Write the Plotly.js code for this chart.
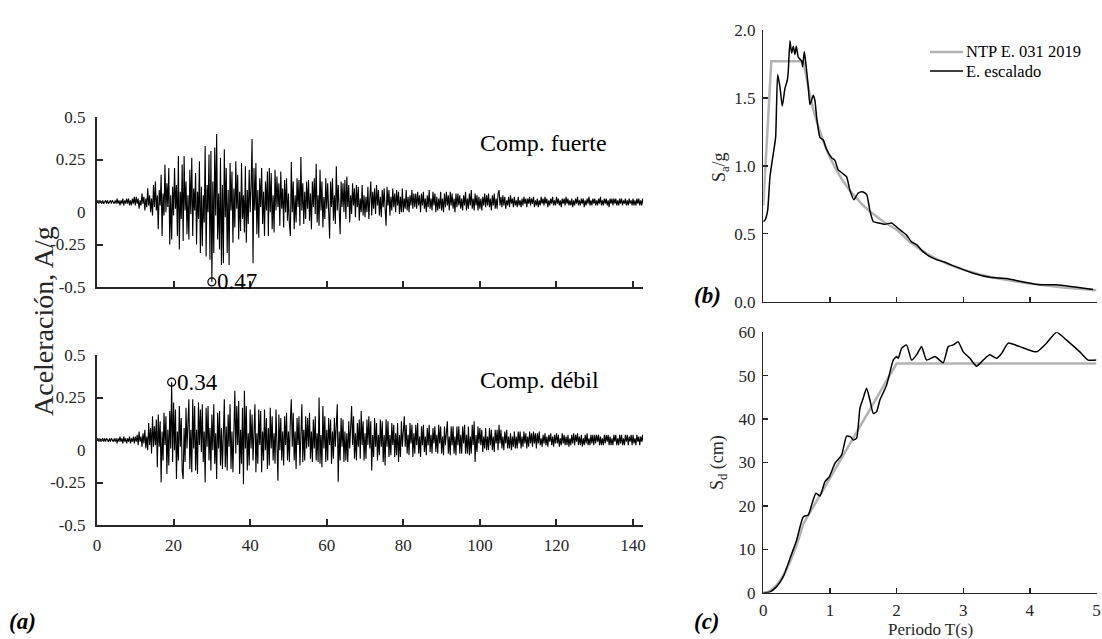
<!DOCTYPE html>
<html>
<head>
<meta charset="utf-8">
<script src="https://cdn.plot.ly/plotly-3.0.1.min.js"></script>
<style>
  html, body { margin: 0; padding: 0; background: #ffffff; }
  #chart { width: 1102px; height: 639px; }
</style>
</head>
<body>
<div id="chart"></div>
<script>
// ---------- Accelerograms (g), sampled every DT seconds ----------
const DT = 0.25;

const accFuerte = [
  0,.01,-.01,.01,0,-.01,.01,-.01,0,.01,-.01,.01,-.01,0,.01,-.01,.01,0,-.01,.01,
  -.01,.02,-.01,.01,-.02,.01,-.01,.02,-.02,.01,-.01,.02,-.01,.02,-.02,.01,-.02,.02,-.01,.03,
  -.02,.03,-.01,.02,-.04,.01,-.02,.05,-.01,.03,-.05,.02,-.03,.08,-.02,.04,-.06,.02,-.08,.1,
  -.03,.12,-.05,.04,-.16,.07,-.02,.16,-.2,.05,-.08,.22,-.06,.11,-.03,.2,-.25,.04,-.22,.09,
  -.08,.2,-.04,.1,-.2,.27,-.28,.06,-.1,.22,-.23,.27,-.05,.12,-.19,.04,-.22,.19,-.07,.26,
  -.2,.08,-.05,.17,-.25,.06,-.1,.24,-.3,.09,-.26,.04,-.12,.33,-.32,.1,-.06,.28,-.34,.3,
  -.47,.12,-.3,.32,-.08,.4,-.22,.05,-.28,.26,-.37,.1,-.36,.31,-.09,.2,-.3,.07,-.37,.23,
  -.05,.18,-.24,.08,-.15,.24,-.04,.16,-.22,.06,-.17,.23,-.1,.04,-.18,.21,-.24,.07,-.13,.19,
  -.06,.1,.37,-.36,.2,-.05,.23,-.19,.07,-.21,.14,-.03,.2,-.13,.06,-.2,.12,-.05,.18,-.2,
  .2,-.06,.17,-.16,.04,-.18,.19,-.05,.15,-.03,.11,-.14,.18,-.04,.08,-.15,.13,-.06,.14,-.11,
  .05,-.13,-.2,.235,-.06,.12,-.16,.04,-.12,.14,-.03,.13,-.14,.265,-.05,.11,-.13,.06,-.1,.12,
  -.04,.13,-.11,.05,-.16,.12,-.03,.14,-.07,.225,-.12,.04,-.14,.19,-.05,.12,-.15,.03,-.1,.14,
  -.04,.11,-.13,-.215,.12,-.03,.14,-.11,.04,-.13,.21,-.05,.1,-.11,-.19,.12,-.03,.11,-.06,.13,
  -.1,.15,-.03,.1,-.12,.04,-.07,.11,-.02,.08,-.09,.1,-.03,.09,-.11,.02,-.06,.1,-.08,.04,
  -.09,.03,-.06,.09,-.1,.02,.12,-.08,.06,-.04,.08,-.07,.1,-.02,.07,-.08,.03,-.09,.07,-.03,
  .08,-.04,-.14,.09,-.02,.07,-.08,.03,-.05,.08,-.03,.05,-.06,.07,-.02,.06,-.07,.03,-.06,.08,
  -.06,.02,-.04,.07,-.05,.03,-.06,.04,-.02,.07,-.04,.05,-.03,.05,-.04,.06,-.02,.04,-.06,.05,
  -.02,.06,-.04,.02,-.06,.04,-.03,.07,-.04,.02,-.05,.06,-.02,.05,-.06,.03,-.05,.02,-.04,.06,
  -.05,.02,-.06,.05,-.03,.06,-.02,.04,-.05,.06,-.02,.05,-.04,.02,-.06,.05,-.03,.05,-.02,.04,
  -.04,.02,-.05,.04,-.02,.06,-.05,.02,-.04,.05,-.02,.07,-.04,.02,-.05,.05,-.02,.04,-.05,.03,
  -.04,.02,-.05,.03,-.02,.05,-.03,.04,-.02,.05,-.03,.02,-.05,.04,-.02,.05,-.04,.02,-.04,.05,
  .07,-.02,.03,-.03,.04,-.02,.03,-.04,.01,-.02,.03,-.03,.04,-.01,.02,-.03,.03,-.02,.01,-.03,
  .03,-.02,.01,-.03,.02,-.02,.03,-.01,.02,-.03,.02,-.01,.03,-.02,.02,-.01,.03,-.03,.01,-.02,
  .02,-.03,.01,-.02,.03,-.01,.02,-.02,.03,-.01,.02,-.03,.01,-.02,.02,-.01,.03,-.02,.01,-.02,
  .03,-.01,.02,-.02,.01,-.03,.02,-.01,.02,-.02,.03,-.01,.02,-.02,.01,-.02,.02,-.03,.01,-.02,
  .02,-.01,.03,-.02,.01,-.02,.02,-.01,.02,-.03,.01,-.02,.02,-.01,.03,-.02,.01,-.02,.02,-.01,
  .02,-.02,.01,-.02,.02,-.01,.03,-.02,.01,-.02,.02,-.01,.02,-.02,.01,-.03,.02,-.01,.02,-.02,
  .02,-.01,.02,-.02,.01,-.02,.02,-.01,.02,-.02,.01,-.01,.02,-.02,.01,-.02,.02,-.01,.01,-.02,
  .02,-.02,.01,-.02,.02,-.01,.02,-.02,.01,-.02,.02,-.01,.01
];

const accDebil = [
  0,.01,-.01,.01,-.01,0,.01,-.01,.01,-.01,.01,0,-.01,.01,-.01,.01,0,-.01,.01,-.01,
  .01,-.02,.01,-.01,.02,-.01,.01,-.02,.02,-.01,.01,-.02,.01,-.01,.02,-.02,.01,-.01,.02,-.02,
  .02,-.01,.03,-.03,.05,-.01,.02,-.04,.04,-.02,.06,-.05,.02,-.06,.1,-.03,.07,-.08,.14,-.04,
  .08,-.03,.12,-.16,.15,-.04,.11,-.25,.05,-.12,.16,-.03,.14,-.2,.06,-.15,.17,-.05,.34,-.13,
  .22,-.06,.18,-.23,.05,-.12,.2,-.04,.13,-.18,-.23,.07,-.13,.19,-.05,.14,.24,-.17,.06,-.19,
  .24,-.05,.2,-.18,.06,-.2,.22,-.03,.18,-.07,.21,-.13,.05,-.25,.19,-.04,.2,-.12,.07,-.18,
  .15,-.06,.21,-.14,.04,-.23,.16,-.05,.17,-.15,.07,-.17,.03,.24,-.16,.08,-.18,.15,-.04,.21,
  -.17,.05,-.19,.16,.29,-.08,.2,-.03,.23,-.2,.06,-.14,.19,-.26,.29,-.05,.2,-.18,.04,-.15,
  .18,-.05,.15,-.12,.06,.21,-.19,.04,-.14,.18,-.03,.17,-.19,.05,-.12,.18,-.06,.13,-.17,.07,
  -.15,.19,-.05,.14,-.12,.04,-.14,.18,-.03,-.24,.15,-.06,.13,-.12,.05,-.15,.14,-.03,.16,-.12,
  .05,-.13,.12,.24,-.04,.16,-.12,.05,-.17,.13,-.03,.14,-.15,.04,.21,-.13,.06,-.12,.14,-.05,
  .13,-.04,.16,-.11,.05,-.13,.12,-.05,.14,-.12,.04,-.13,.25,-.14,.03,-.16,.2,-.05,.14,-.13,
  .06,-.12,.13,-.03,.12,-.14,.05,-.11,.13,-.04,.14,.21,-.245,.05,-.12,.13,-.04,.12,-.13,.05,
  -.12,.04,-.13,.11,-.05,.12,.2,-.03,.14,-.11,.04,-.12,.1,-.04,.12,-.11,.17,-.03,.11,-.12,
  .04,-.11,.12,-.03,.14,-.05,.11,-.18,.03,-.1,.13,-.04,.1,-.12,.03,-.09,.12,-.04,.11,-.13,
  .03,-.15,.12,-.04,.11,-.1,.03,-.09,.1,-.03,.09,-.1,.04,-.09,.1,-.13,.03,-.1,.11,-.04,
  .1,.14,-.04,.09,-.08,.03,-.09,.1,-.02,.09,-.1,.04,-.08,.09,-.03,.1,-.08,.02,-.1,.08,
  -.03,.09,-.07,.02,-.09,.07,-.03,.09,-.07,.03,-.08,.07,-.02,.08,-.07,.03,-.08,.09,-.02,.08,
  -.08,.02,-.09,.08,-.03,.08,.11,-.08,.02,-.09,.08,-.03,.08,-.08,.02,-.09,.08,-.03,.08,-.08,
  .03,-.08,.08,-.02,.09,-.08,.03,-.08,.08,-.09,.02,-.08,.09,-.03,.11,-.13,.03,-.07,.08,-.02,
  .07,-.03,.06,-.07,.02,-.05,.07,-.06,.02,-.06,.07,-.03,.06,-.06,.02,-.07,.06,-.02,.06,-.06,
  .09,-.02,.06,-.05,.02,-.06,.05,-.02,.06,-.05,.02,-.05,.04,-.06,.02,-.04,.05,-.05,.02,-.05,
  .05,-.02,.05,-.05,.02,-.04,.05,-.02,.04,-.05,.02,-.04,.05,-.02,.04,-.04,.05,-.02,.04,-.05,
  .04,-.02,.05,-.03,.01,-.04,.03,-.02,.04,-.03,.02,-.04,.03,-.01,.04,-.03,.02,-.04,.03,-.02,
  .04,-.02,.03,-.04,.01,-.03,.04,-.02,.03,-.03,.02,-.03,.03,-.04,.01,-.03,.03,-.02,.04,-.03,
  .03,-.01,.04,-.03,.02,-.03,.03,-.04,.01,-.03,.03,-.02,.04,-.03,.01,-.03,.03,-.02,.03,-.03,
  .03,-.02,.03,-.01,.03,-.03,.02,-.03,.01,-.03,.03,-.02,.03,-.01,.03,-.03,.02,-.03,.01,-.03,
  .03,-.01,.03,-.03,.01,-.03,.03,-.02,.03,-.03,.01,-.03,.03,-.01,.03,-.03,.02,-.01,.03,-.03,
  .03,-.02,.01,-.03,.03,-.01,.02,-.03,.02,-.01,.03,-.02,.02
];

// Peak values marked on each record
const peakFuerte = { t: 30.0, a: -0.47, label: "0.47" };
const peakDebil  = { t: 19.5, a: 0.34,  label: "0.34" };

// ---------- Design spectrum NTP E.031 2019 ----------
const periodNtpSa = [0, 0.12, 0.6, 0.65, 0.7, 0.75, 0.8, 0.9, 1.0, 1.1, 1.2, 1.3, 1.4, 1.5, 1.6, 1.7, 1.8, 1.9, 2.0,
                     2.2, 2.4, 2.6, 2.8, 3.0, 3.25, 3.5, 3.75, 4.0, 4.5, 5.0];
const saNtp = [0.708, 1.77, 1.77, 1.634, 1.517, 1.416, 1.328, 1.18, 1.062, 0.965, 0.885, 0.817, 0.759, 0.708, 0.664, 0.625, 0.59, 0.559, 0.531,
               0.439, 0.369, 0.314, 0.271, 0.236, 0.201, 0.173, 0.151, 0.133, 0.105, 0.085];

const periodNtpSd = [0, 0.06, 0.12, 0.2, 0.25, 0.3, 0.35, 0.4, 0.45, 0.5, 0.55, 0.6, 1.0, 1.5, 2.0, 5.0];
const sdNtp = [0, 0.11, 0.63, 1.76, 2.75, 3.96, 5.39, 7.04, 8.91, 11.0, 13.3, 15.84, 26.39, 39.6, 52.8, 52.8];

// ---------- Spectrum of the scaled record ----------
const periodEscSa = [0, 0.025, 0.065, 0.1, 0.15, 0.185, 0.215, 0.25, 0.285, 0.325, 0.36, 0.375, 0.4, 0.425, 0.45, 0.475, 0.495,
                     0.525, 0.575, 0.59, 0.615, 0.635, 0.675, 0.7, 0.75, 0.775, 0.8, 0.85, 0.9, 0.95, 1.025, 1.075, 1.125,
                     1.2, 1.25, 1.3, 1.36, 1.425, 1.485, 1.55, 1.6, 1.65, 1.725, 1.825, 1.925, 2.0, 2.075, 2.15, 2.225,
                     2.3, 2.375, 2.475, 2.6, 2.725, 2.875, 3.15, 3.4, 3.65, 3.9, 4.15, 4.4, 4.65, 4.95];
const saEsc = [0.59, 0.6, 0.67, 0.92, 1.09, 1.21, 1.67, 1.58, 1.44, 1.57, 1.63, 1.7, 1.92, 1.83, 1.88, 1.82, 1.88,
               1.80, 1.77, 1.73, 1.84, 1.77, 1.58, 1.45, 1.52, 1.48, 1.36, 1.21, 1.19, 1.12, 1.06, 1.04, 0.97,
               0.94, 0.92, 0.82, 0.75, 0.80, 0.81, 0.79, 0.67, 0.59, 0.58, 0.57, 0.58, 0.55, 0.52, 0.49, 0.44,
               0.42, 0.38, 0.34, 0.31, 0.29, 0.26, 0.21, 0.18, 0.17, 0.145, 0.125, 0.125, 0.11, 0.09];

const periodEscSd = [0, 0.1, 0.2, 0.3, 0.4, 0.5, 0.6, 0.675, 0.725, 0.79, 0.85, 0.925, 0.99, 1.075, 1.175, 1.25, 1.31,
                     1.35, 1.4, 1.45, 1.49, 1.55, 1.6, 1.65, 1.7, 1.75, 1.85, 1.95, 2.0, 2.025, 2.075, 2.15, 2.225,
                     2.3, 2.375, 2.45, 2.575, 2.7, 2.775, 2.85, 2.925, 3.0, 3.1, 3.2, 3.3, 3.4, 3.5, 3.575, 3.675,
                     3.85, 4.1, 4.25, 4.4, 4.55, 4.75, 4.875, 5.0];
const sdEsc = [0, 0.2, 1.4, 3.7, 7.9, 12.1, 17.5, 17.9, 20.2, 22.9, 22.3, 25.6, 26.7, 29.8, 31.7, 36.1, 35.9,
               35.2, 35.6, 42.5, 44.4, 47.1, 44.4, 41.3, 41.7, 44.4, 47.8, 53.6, 54.4, 54.0, 56.3, 57.1, 53.6,
               54.8, 56.7, 53.6, 54.4, 53.0, 56.7, 57.1, 57.8, 55.5, 54.0, 52.2, 53.6, 54.8, 54.0, 55.1, 57.5,
               56.7, 55.5, 57.5, 60.0, 58.2, 55.5, 53.6, 53.6];

// Tick labels
const accTicks = [-0.5, -0.25, 0, 0.25, 0.5];
const accTickText = ["-0.5", "-0.25", "", "0.25", "0.5"];
const timeTicks = [0, 20, 40, 60, 80, 100, 120, 140];
const saTicks = [0, 0.5, 1.0, 1.5, 2.0];
const saTickText = ["0.0", "0.5", "1.0", "1.5", "2.0"];
const sdTicks = [0, 10, 20, 30, 40, 50, 60];
const periodTicks = [0, 1, 2, 3, 4, 5];

// ---------- Drawing ----------
const W = 1102, H = 639;
const px = x => x / W;          // pixel -> paper (horizontal)
const py = y => 1 - y / H;      // pixel -> paper (vertical)

const SERIF = "Liberation Serif";
const AX = "#262626";
const GRAY = "#b3b3b3";

const timeF = accFuerte.map((_, i) => i * DT);
const timeD = accDebil.map((_, i) => i * DT);

const traces = [
  { x: timeF, y: accFuerte, xaxis: "x", yaxis: "y", mode: "lines",
    line: { color: "#000", width: 1.1 }, hoverinfo: "skip" },
  { x: [peakFuerte.t], y: [peakFuerte.a], xaxis: "x", yaxis: "y", mode: "markers",
    marker: { symbol: "circle-open", size: 8, color: "#000", line: { width: 1.2 } } },
  { x: timeD, y: accDebil, xaxis: "x2", yaxis: "y2", mode: "lines",
    line: { color: "#000", width: 1.1 }, hoverinfo: "skip" },
  { x: [peakDebil.t], y: [peakDebil.a], xaxis: "x2", yaxis: "y2", mode: "markers",
    marker: { symbol: "circle-open", size: 8, color: "#000", line: { width: 1.2 } } },
  { x: periodNtpSa, y: saNtp, xaxis: "x3", yaxis: "y3", mode: "lines",
    line: { color: GRAY, width: 2.5 }, name: "NTP E. 031 2019" },
  { x: periodEscSa, y: saEsc, xaxis: "x3", yaxis: "y3", mode: "lines",
    line: { color: "#000", width: 1.5, shape: "spline", smoothing: 0.5 }, name: "E. escalado" },
  { x: periodNtpSd, y: sdNtp, xaxis: "x4", yaxis: "y4", mode: "lines",
    line: { color: GRAY, width: 2.5 } },
  { x: periodEscSd, y: sdEsc, xaxis: "x4", yaxis: "y4", mode: "lines",
    line: { color: "#000", width: 1.5, shape: "spline", smoothing: 0.5 } }
];

const baseAxis = {
  showgrid: false, zeroline: false, showline: true, linecolor: AX,
  ticks: "inside", tickcolor: AX, fixedrange: true,
  tickfont: { family: SERIF, size: 17, color: AX }
};

const accX = Object.assign({}, baseAxis, {
  domain: [px(97), px(643)], range: [0, 142.6], tickvals: timeTicks,
  linewidth: 2, tickwidth: 2, ticklen: 6, ticklabelstandoff: 4
});
const accY = Object.assign({}, baseAxis, {
  range: [-0.5, 0.5], tickvals: accTicks, ticktext: accTickText,
  linewidth: 2, tickwidth: 2, ticklen: 6, ticklabelstandoff: 6
});
const specX = Object.assign({}, baseAxis, {
  domain: [px(763.3), px(1096.5)], range: [0, 5], tickvals: periodTicks,
  linewidth: 1.3, tickwidth: 1.3, ticklen: 5
});
const specY = Object.assign({}, baseAxis, {
  linewidth: 1.3, tickwidth: 1.3, ticklen: 5, ticklabelstandoff: 3
});

function label(text, x, y, size, extra) {
  return Object.assign({
    text: text, xref: "paper", yref: "paper", x: px(x), y: py(y),
    xanchor: "center", yanchor: "middle", showarrow: false,
    font: { family: SERIF, size: size, color: "#000" }
  }, extra || {});
}

const layout = {
  width: W, height: H,
  margin: { l: 0, r: 0, t: 0, b: 0 },
  paper_bgcolor: "#ffffff", plot_bgcolor: "rgba(0,0,0,0)",
  showlegend: false,
  font: { family: SERIF, color: AX },
  xaxis: Object.assign({}, accX, { anchor: "y", showticklabels: false }),
  yaxis: Object.assign({}, accY, { anchor: "x", domain: [py(287), py(117)] }),
  xaxis2: Object.assign({}, accX, { anchor: "y2", showticklabels: true }),
  yaxis2: Object.assign({}, accY, { anchor: "x2", domain: [py(525), py(355)] }),
  xaxis3: Object.assign({}, specX, { anchor: "y3", showticklabels: false }),
  yaxis3: Object.assign({}, specY, { anchor: "x3", domain: [py(301.7), py(30)], range: [0, 2],
                                     tickvals: saTicks, ticktext: saTickText }),
  xaxis4: Object.assign({}, specX, { anchor: "y4", showticklabels: true, ticklabelstandoff: 2 }),
  yaxis4: Object.assign({}, specY, { anchor: "x4", domain: [py(592.7), py(332.3)], range: [0, 60],
                                     tickvals: sdTicks }),
  shapes: [
    { type: "line", xref: "paper", yref: "paper", x0: px(930), x1: px(963), y0: py(52), y1: py(52),
      line: { color: GRAY, width: 2.5 } },
    { type: "line", xref: "paper", yref: "paper", x0: px(930), x1: px(963), y0: py(71), y1: py(71),
      line: { color: "#000", width: 1.5 } }
  ],
  annotations: [
    label("Aceleración, A/g", 43, 321, 28, { textangle: -90, font: { family: SERIF, size: 28, color: AX } }),
    label("Comp. fuerte", 543, 143, 24),
    label("Comp. débil", 539, 380, 24),
    { text: peakFuerte.label, xref: "x", yref: "y", x: peakFuerte.t, y: peakFuerte.a,
      xanchor: "left", yanchor: "middle", xshift: 3, showarrow: false,
      font: { family: SERIF, size: 23, color: "#000" } },
    { text: peakDebil.label, xref: "x2", yref: "y2", x: peakDebil.t, y: peakDebil.a,
      xanchor: "left", yanchor: "middle", xshift: 3, showarrow: false,
      font: { family: SERIF, size: 23, color: "#000" } },
    { text: "0", xref: "paper", yref: "y", x: px(97), y: 0, xanchor: "right", yanchor: "middle",
      xshift: -9, yshift: -10, showarrow: false, font: { family: SERIF, size: 17, color: AX } },
    { text: "0", xref: "paper", yref: "y2", x: px(97), y: 0, xanchor: "right", yanchor: "middle",
      xshift: -9, yshift: -10, showarrow: false, font: { family: SERIF, size: 17, color: AX } },
    label("<b><i>(a)</i></b>", 22, 621, 23),
    label("<b><i>(b)</i></b>", 707, 295, 23),
    label("<b><i>(c)</i></b>", 707, 621, 23),
    label("S<sub>a</sub>/g", 720, 167, 18, { textangle: -90, font: { family: SERIF, size: 18, color: AX } }),
    label("S<sub>d</sub> (cm)", 718, 463, 18, { textangle: -90, font: { family: SERIF, size: 18, color: AX } }),
    label("Periodo T(s)", 930, 629, 17, { font: { family: SERIF, size: 17, color: AX } }),
    label("NTP E. 031 2019", 964, 52, 16.5, { xanchor: "left" }),
    label("E. escalado", 964, 71, 16.5, { xanchor: "left" })
  ]
};

Plotly.newPlot("chart", traces, layout, { staticPlot: true, displayModeBar: false });
</script>
</body>
</html>
